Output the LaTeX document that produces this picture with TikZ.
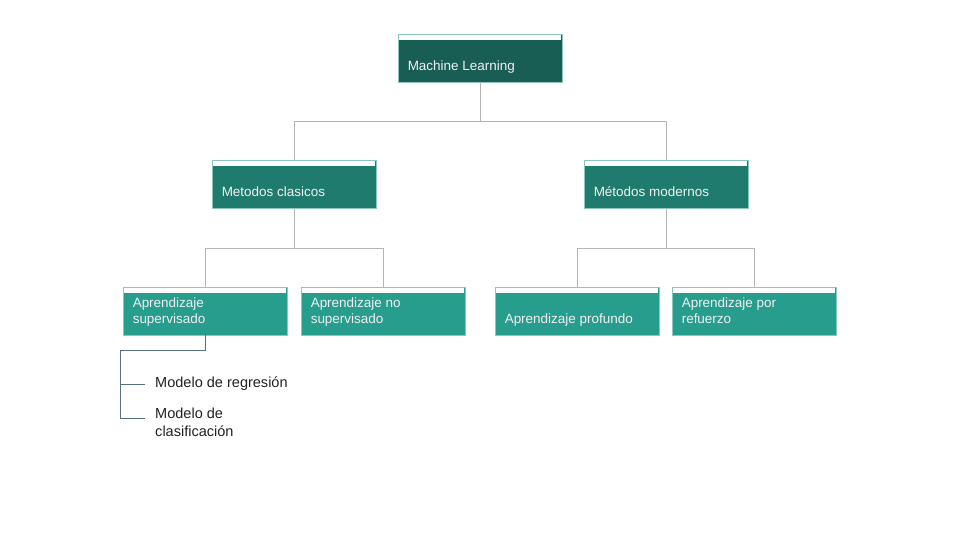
\documentclass[tikz,border=0pt]{standalone}
\usepackage{fontspec}
\setmainfont{Liberation Sans}
\usetikzlibrary{positioning}
\definecolor{tealdark}{HTML}{195E54}
\definecolor{tealmid}{HTML}{1E7B6E}
\definecolor{teallight}{HTML}{279D8E}
\definecolor{tealedge}{HTML}{8CC7BE}
\definecolor{linkgray}{HTML}{B5B5B5}
\definecolor{subslate}{HTML}{56707F}
\tikzset{
  box/.style={rectangle, draw=tealedge, line width=0.8pt, inner sep=0pt,
    minimum width=4.92cm, minimum height=1.44cm,
    path picture={\fill[white] ([shift={(0.03cm,-0.03cm)}]path picture bounding box.north west)
      rectangle ([shift={(-0.03cm,-0.18cm)}]path picture bounding box.north east);}},
  boxtext/.style={anchor=south west, inner sep=0pt, align=left, text=white!94!black,
    font=\fontsize{11.5}{13.6}\selectfont},
  subtext/.style={inner sep=0pt, align=left, text=black!87,
    font=\fontsize{12.4}{15.3}\selectfont},
  link/.style={draw=linkgray, line width=0.8pt},
  sublink/.style={draw=subslate, line width=0.8pt}
}
\begin{document}
\begin{tikzpicture}[x=0.03cm, y=-0.03cm]
  \useasboundingbox (0,0) rectangle (960,540);
  % boxes
  \node[box, fill=tealdark] (ml) at (480,58) {};
  \node[box, fill=tealmid] (clasicos) at (294,184.5) {};
  \node[box, fill=tealmid] (modernos) at (666,184.5) {};
  \node[box, fill=teallight] (sup) at (205,311) {};
  \node[box, fill=teallight] (nosup) at (383,311) {};
  \node[box, fill=teallight] (profundo) at (577,311) {};
  \node[box, fill=teallight] (refuerzo) at (754,311) {};
  % box labels
  \node[boxtext] (mltext) at ([shift={(10,-7)}]ml.south west) {Machine Learning\strut};
  \node[boxtext] (clasicostext) at ([shift={(10,-7)}]clasicos.south west) {Metodos clasicos\strut};
  \node[boxtext] (modernostext) at ([shift={(10,-7)}]modernos.south west) {Métodos modernos\strut};
  \node[boxtext] (suptext) at ([shift={(10,-7)}]sup.south west) {Aprendizaje\\supervisado\strut};
  \node[boxtext] (nosuptext) at ([shift={(10,-7)}]nosup.south west) {Aprendizaje no\\supervisado\strut};
  \node[boxtext] (profundotext) at ([shift={(10,-7)}]profundo.south west) {Aprendizaje profundo\strut};
  \node[boxtext] (refuerzotext) at ([shift={(10,-7)}]refuerzo.south west) {Aprendizaje por\\refuerzo\strut};
  % sub items
  \node[subtext, anchor=west] (reg) at (155,384) {Modelo de regresión};
  \node[subtext, anchor=west] (cla) at (155,422) {Modelo de\\clasificación};
  % connectors
  \begin{scope}[link]
    \draw (ml.south) -- ++(0,39) -| (clasicos.north);
    \draw (ml.south) -- ++(0,39) -| (modernos.north);
    \draw (clasicos.south) -- ++(0,39) -| (sup.north);
    \draw (clasicos.south) -- ++(0,39) -| (nosup.north);
    \draw (modernos.south) -- ++(0,39) -| (profundo.north);
    \draw (modernos.south) -- ++(0,39) -| (refuerzo.north);
  \end{scope}
  \coordinate (trunk) at (120,350);
  \begin{scope}[sublink]
    \draw (sup.south) |- (trunk) |- ([shift={(-10,-4)}]cla.west);
    \draw (trunk) |- ([shift={(-10,0)}]reg.west);
  \end{scope}
\end{tikzpicture}
\end{document}
